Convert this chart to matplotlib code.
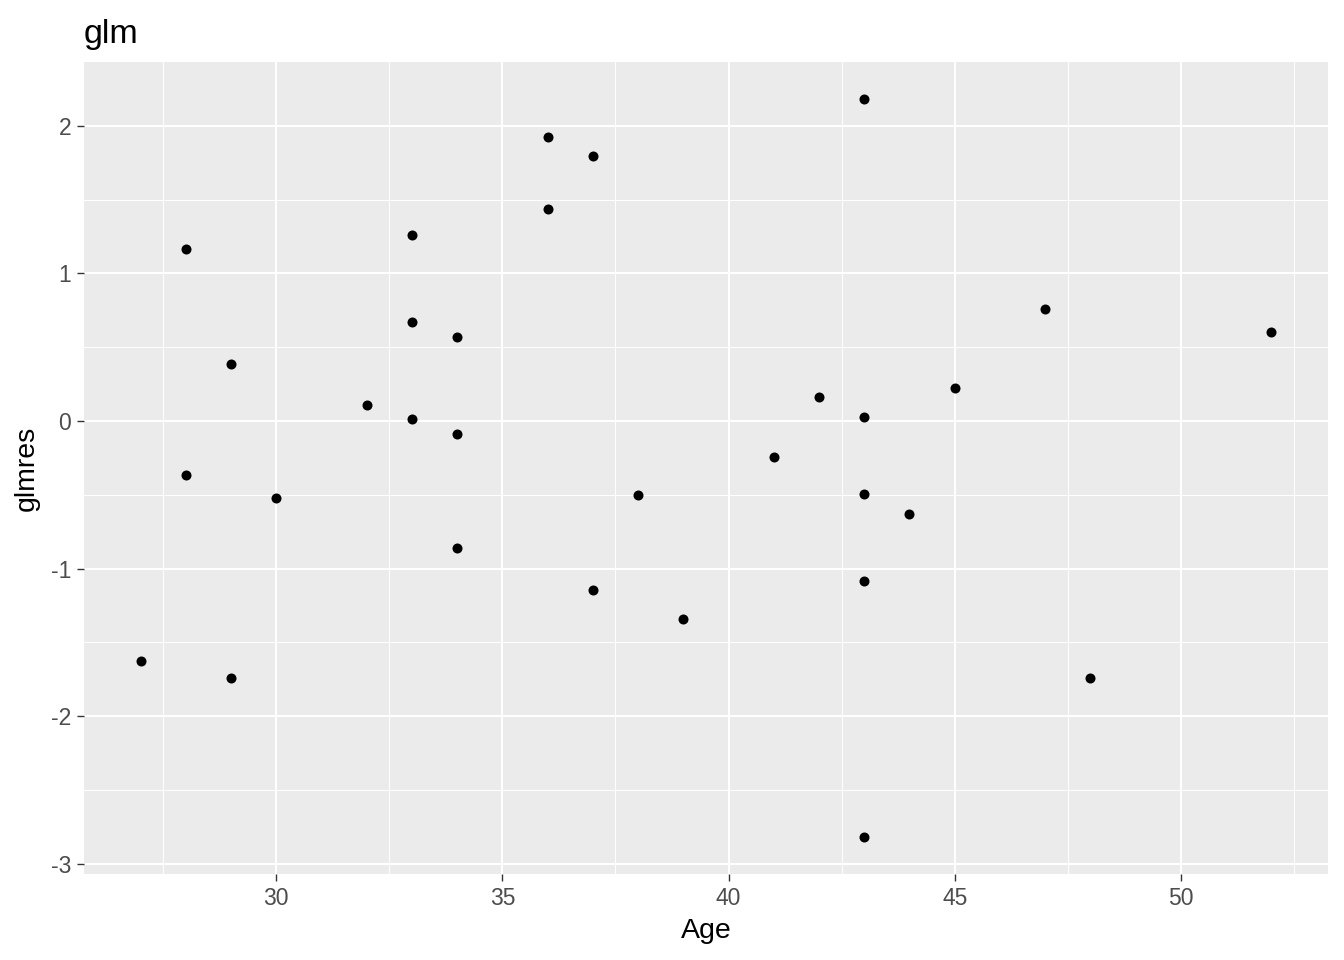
import matplotlib
matplotlib.use("Agg")
import matplotlib.pyplot as plt
import numpy as np

# данные
age = [27, 28, 28, 29, 29, 30, 32, 33, 33, 33, 34, 34, 34, 36, 36, 37,
       37, 38, 39, 41, 42, 43, 43, 43, 43, 43, 44, 45, 47, 48, 52]
glmres = [-1.626, 1.165, -0.366, 0.386, -1.741, -0.522, 0.108, 1.260,
          0.671, 0.014, 0.569, -0.088, -0.860, 1.924, 1.436, 1.795,
          -1.145, -0.501, -1.341, -0.244, 0.163, 2.182, 0.027, -0.495,
          -1.084, -2.818, -0.630, 0.224, 0.759, -1.741, 0.603]
x_ticks = [30, 35, 40, 45, 50]
y_ticks = [-3, -2, -1, 0, 1, 2]

plt.rcParams["font.family"] = ["Liberation Sans", "DejaVu Sans"]
plt.rcParams["axes.unicode_minus"] = False

fig = plt.figure(figsize=(13.44, 9.6), dpi=100)
ax = fig.add_axes([0.0625, 0.0896, 0.9255, 0.8458])
ax.set_facecolor("#EBEBEB")
for s in ax.spines.values():
    s.set_visible(False)

x = np.array(age, float)
y = np.array(glmres, float)
xr = x.max() - x.min()
yr = y.max() - y.min()
ax.set_xlim(x.min() - 0.05 * xr, x.max() + 0.05 * xr)
ax.set_ylim(y.min() - 0.05 * yr, y.max() + 0.05 * yr)

ax.set_xticks(x_ticks)
ax.set_yticks(y_ticks)
ax.set_xticks([27.5, 32.5, 37.5, 42.5, 47.5, 52.5], minor=True)
ax.set_yticks([-2.5, -1.5, -0.5, 0.5, 1.5], minor=True)
ax.grid(which="major", color="white", lw=1.45)
ax.grid(which="minor", color="white", lw=0.7)
ax.set_axisbelow(True)
ax.tick_params(which="major", length=5.3, width=1.0, color="#333333",
               labelsize=16.5, labelcolor="#4D4D4D", pad=4)
ax.tick_params(which="minor", length=0)

ax.scatter(x, y, s=52, color="black", zorder=3, linewidths=0)

ax.set_xlabel("Age", fontsize=20.5, labelpad=6)
ax.set_ylabel("glmres", fontsize=20.5, labelpad=8)
ax.set_title("glm", fontsize=24.5, loc="left", pad=14)

fig.savefig("out.png", dpi=100)
